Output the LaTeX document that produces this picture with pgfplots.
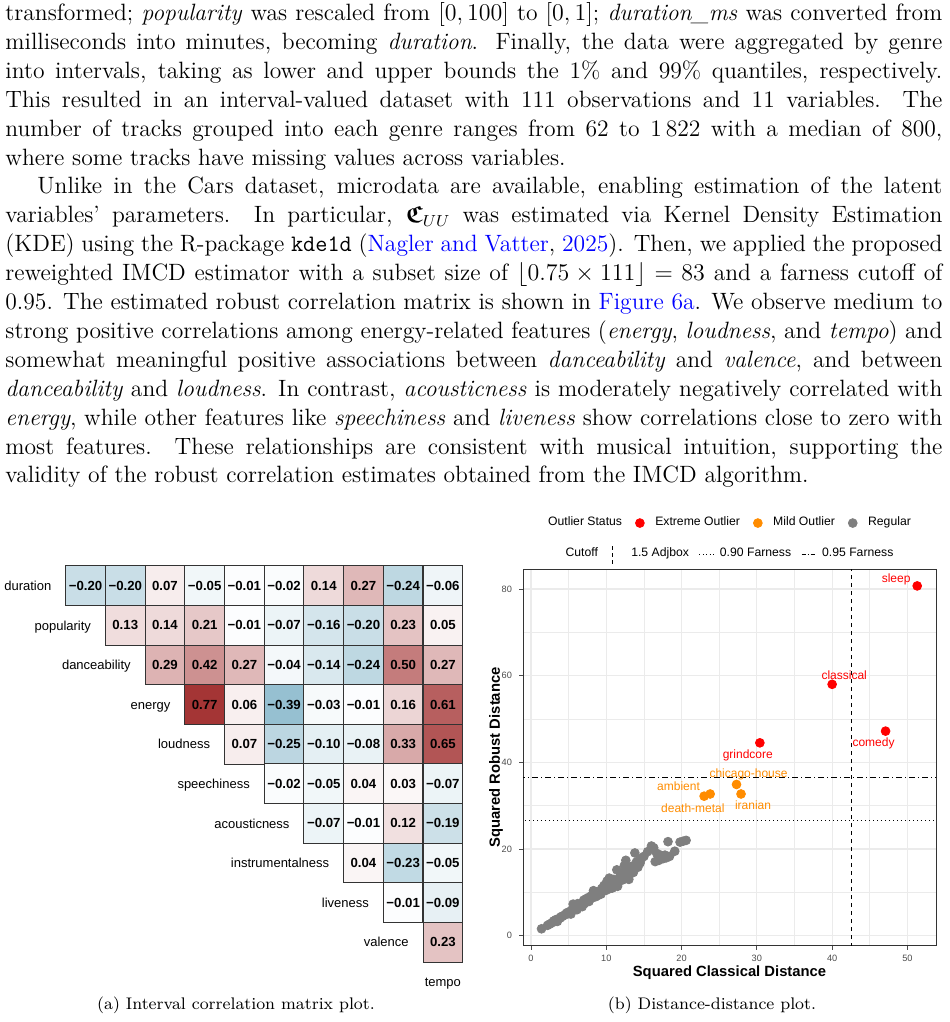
\documentclass[border=0pt]{standalone}
\usepackage{amsmath,amssymb}
\usepackage{fontspec}
\usepackage{pgfplots}
\usepackage{pgfplotstable}
\pgfplotsset{compat=1.18}
\newfontfamily\arial{Liberation Sans}
\definecolor{gcol}{RGB}{127,127,127}
\definecolor{ocol}{RGB}{255,140,0}
\definecolor{rcol}{RGB}{255,0,0}
\definecolor{linkblue}{RGB}{0,0,255}
\definecolor{tickgray}{RGB}{77,77,77}

\pgfplotstableread{
x y v lab
1 0 -0.20 −0.20
2 0 -0.20 −0.20
3 0 0.07 0.07
4 0 -0.05 −0.05
5 0 -0.01 −0.01
6 0 -0.02 −0.02
7 0 0.14 0.14
8 0 0.27 0.27
9 0 -0.24 −0.24
10 0 -0.06 −0.06
2 1 0.13 0.13
3 1 0.14 0.14
4 1 0.21 0.21
5 1 -0.01 −0.01
6 1 -0.07 −0.07
7 1 -0.16 −0.16
8 1 -0.20 −0.20
9 1 0.23 0.23
10 1 0.05 0.05
3 2 0.29 0.29
4 2 0.42 0.42
5 2 0.27 0.27
6 2 -0.04 −0.04
7 2 -0.14 −0.14
8 2 -0.24 −0.24
9 2 0.50 0.50
10 2 0.27 0.27
4 3 0.77 0.77
5 3 0.06 0.06
6 3 -0.39 −0.39
7 3 -0.03 −0.03
8 3 -0.01 −0.01
9 3 0.16 0.16
10 3 0.61 0.61
5 4 0.07 0.07
6 4 -0.25 −0.25
7 4 -0.10 −0.10
8 4 -0.08 −0.08
9 4 0.33 0.33
10 4 0.65 0.65
6 5 -0.02 −0.02
7 5 -0.05 −0.05
8 5 0.04 0.04
9 5 0.03 0.03
10 5 -0.07 −0.07
7 6 -0.07 −0.07
8 6 -0.01 −0.01
9 6 0.12 0.12
10 6 -0.19 −0.19
8 7 0.04 0.04
9 7 -0.23 −0.23
10 7 -0.05 −0.05
9 8 -0.01 −0.01
10 8 -0.09 −0.09
10 9 0.23 0.23
}\corr

\newlength\tw \setlength\tw{468.5pt}
\newcommand\Ln[1]{\hbox to\tw{#1}}
\newcommand\Lf[1]{\hbox to\tw{#1\hfil}}

\begin{document}
\begin{tikzpicture}
\path[use as bounding box] (0,0) rectangle (474.5pt,-511pt);

\node[anchor=base west, inner sep=0pt] at (2.5pt,-10.3pt) {\parbox[t]{\tw}{\fontsize{11.8}{14.45}\selectfont
\Ln{transformed; \textit{popularity} was rescaled from $[0,100]$ to $[0,1]$; \textit{duration\_ms} was converted from}
\Ln{milliseconds into minutes, becoming \textit{duration}. Finally, the data were aggregated by genre}
\Ln{into intervals, taking as lower and upper bounds the 1\% and 99\% quantiles, respectively.}
\Ln{This resulted in an interval-valued dataset with 111 observations and 11 variables. The}
\Ln{number of tracks grouped into each genre ranges from 62 to 1\,822 with a median of 800,}
\Lf{where some tracks have missing values across variables.}
\Ln{\hskip16pt Unlike in the Cars dataset, microdata are available, enabling estimation of the latent}
\Ln{variables' parameters. In particular, $\boldsymbol{\mathfrak{C}}_{UU}$ was estimated via Kernel Density Estimation}
\Ln{(KDE) using the R-package \texttt{kde1d} ({\color{linkblue}Nagler and Vatter}, {\color{linkblue}2025}). Then, we applied the proposed}
\Ln{reweighted IMCD estimator with a subset size of $\lfloor 0.75\times 111\rfloor = 83$ and a farness cutoff of}
\Ln{0.95. The estimated robust correlation matrix is shown in {\color{linkblue}Figure 6a}. We observe medium to}
\Ln{strong positive correlations among energy-related features (\textit{energy}, \textit{loudness}, and \textit{tempo}) and}
\Ln{somewhat meaningful positive associations between \textit{danceability} and \textit{valence}, and between}
\Ln{\textit{danceability} and \textit{loudness}. In contrast, \textit{acousticness} is moderately negatively correlated with}
\Ln{\textit{energy}, while other features like \textit{speechiness} and \textit{liveness} show correlations close to zero with}
\Ln{most features. These relationships are consistent with musical intuition, supporting the}
\Lf{validity of the robust correlation estimates obtained from the IMCD algorithm.}
}};

% ---------------- heatmap ----------------
\begin{axis}[
  at={(32.85pt,-283pt)}, anchor=north west,
  x=19.85pt, y=19.8pt, y dir=reverse,
  xmin=0.5, xmax=10.5, ymin=-0.5, ymax=9.5,
  hide axis, clip=false,
  colormap={corr}{rgb255=(40,125,160) rgb255=(255,255,255) rgb255=(160,45,45)},
  point meta min=-0.8, point meta max=0.8,
]
\addplot[scatter, only marks, mark=square*, mark size=9.92pt,
  scatter/use mapped color={draw=black!80, fill=mapped color},
  mark options={line width=0.5pt},
  point meta=\thisrow{v}] table[x=x,y=y] {\corr};
\addplot[draw=none, mark=none, nodes near coords, nodes near coords align=center,
  point meta=explicit symbolic,
  every node near coord/.append style={font=\arial\bfseries\fontsize{6.6}{7}\selectfont, text=black, anchor=center}]
  table[x=x,y=y,meta=lab] {\corr};
\begin{scope}[every node/.style={anchor=east, font=\arial\fontsize{6.5}{7}\selectfont, text height=4.6pt, text depth=0pt, inner sep=0pt}]
\node at (axis cs:0.147,0) {duration};
\node at (axis cs:1.147,1) {popularity};
\node at (axis cs:2.147,2) {danceability};
\node at (axis cs:3.147,3) {energy};
\node at (axis cs:4.147,4) {loudness};
\node at (axis cs:5.147,5) {speechiness};
\node at (axis cs:6.147,6) {acousticness};
\node at (axis cs:7.147,7) {instrumentalness};
\node at (axis cs:8.147,8) {liveness};
\node at (axis cs:9.147,9) {valence};
\node[anchor=center] at (axis cs:10,10) {tempo};
\end{scope}
\end{axis}

% ---------------- distance-distance plot ----------------
\begin{axis}[
  at={(261.5pt,-284.5pt)}, anchor=north west,
  scale only axis, width=206.5pt, height=188.35pt,
  xmin=-1.06, xmax=53.8, ymin=-2.3, ymax=84.6,
  xtick={0,10,20,30,40,50}, ytick={0,20,40,60,80},
  minor xtick={5,15,25,35,45}, minor ytick={10,30,50,70},
  grid=both,
  major grid style={draw=black!8, line width=0.6pt},
  minor grid style={draw=black!8, line width=0.3pt},
  tick pos=left, tick align=outside, major tick length=2pt, minor tick length=0pt,
  tick style={black!70, line width=0.4pt},
  axis line style={draw=black!80, line width=0.5pt},
  ticklabel style={font=\arial\fontsize{4.6}{5}\selectfont, text=tickgray},
  xticklabel style={yshift=1pt},
  /pgf/number format/assume math mode=true,
  xlabel={Squared Classical Distance}, ylabel={Squared Robust Distance},
  label style={font=\arial\bfseries\fontsize{7.4}{8}\selectfont},
  xlabel style={at={(axis description cs:0.5,-0.0706)}, anchor=center},
  ylabel style={at={(axis description cs:-0.0654,0.5)}, anchor=center},
  legend columns=-1,
  legend style={at={(0.5,1.122)}, anchor=center, draw=none, fill=none,
    font=\arial\fontsize{6.1}{7}\selectfont,
    /tikz/every even column/.append style={column sep=3.5pt}},
  legend image code/.code={\path[draw=none, fill=none] (0cm,0cm) -- (0.32cm,0cm); \draw[#1] plot coordinates {(0.12cm,0cm)};},
]
\addlegendimage{empty legend}\addlegendentry{Outlier Status}
\addplot[only marks, mark=*, mark size=2.2pt, color=rcol] coordinates {
 (51.3,80.7) (40.0,58.0) (47.1,47.2) (30.4,44.5)};
\addlegendentry{Extreme Outlier}
\addplot[only marks, mark=*, mark size=2.2pt, color=ocol] coordinates {
 (27.3,34.9) (23.0,32.2) (23.8,32.7) (27.9,32.7)};
\addlegendentry{Mild Outlier}
\addplot[only marks, mark=*, mark size=2.2pt, color=gcol] coordinates {
 (1.4,1.6) (2.2,2.4) (2.5,2.7) (2.8,3.0) (3.0,3.4) (3.3,3.7) (3.5,3.3) (3.6,3.9)
 (3.9,4.1) (4.0,4.4) (4.2,4.5) (4.5,4.8) (4.7,5.2) (4.9,5.4) (5.0,5.1) (5.2,5.6)
 (5.3,5.0) (5.4,5.9) (5.6,7.3) (5.8,6.3) (6.0,6.5) (6.1,6.0) (6.2,7.4) (6.3,6.8)
 (6.5,7.0) (6.7,7.2) (6.8,6.7) (6.9,7.6) (7.0,8.2) (7.1,7.4) (7.3,8.5) (7.5,8.0)
 (7.6,8.8) (7.7,7.9) (7.8,8.4) (8.0,9.2) (8.1,8.7) (8.3,10.4) (8.4,9.4) (8.6,9.0)
 (8.8,9.8) (8.9,9.3) (9.0,9.5) (9.2,10.3) (9.3,9.6) (9.4,10.9) (9.6,10.4) (9.7,11.6)
 (9.9,11.0) (10.0,10.5) (10.1,12.6) (10.2,11.8) (10.4,13.3) (10.5,10.9) (10.7,11.5)
 (10.8,11.0) (10.9,12.3) (11.0,13.0) (11.2,12.0) (11.4,15.2) (11.5,11.4) (11.6,12.2)
 (11.8,13.6) (11.9,12.8) (12.0,14.4) (12.2,12.9) (12.3,13.9) (12.4,16.2) (12.6,17.4)
 (12.7,15.0) (12.9,13.4) (13.0,13.0) (13.1,14.1) (13.2,15.5) (13.4,16.0) (13.6,14.6)
 (13.8,19.1) (14.0,17.0) (14.2,15.8) (14.4,17.5) (14.5,16.8) (14.7,17.9) (15.0,18.3)
 (15.5,19.4) (16.0,20.7) (16.2,20.0) (16.3,20.3) (16.5,17.1) (16.7,19.0) (17.0,17.4)
 (17.2,18.6) (17.6,17.8) (17.8,18.6) (18.0,18.0) (18.2,21.7) (18.4,18.3) (19.1,19.5)
 (19.8,21.6) (20.2,21.8) (20.6,22.0)};
\addlegendentry{Regular}
\addplot[forget plot, black, line width=0.5pt, dash pattern=on 2pt off 2pt] coordinates {(42.6,-10) (42.6,100)};
\addplot[forget plot, black, line width=0.5pt, dash pattern=on 0.5pt off 1.5pt] coordinates {(-5,26.5) (60,26.5)};
\addplot[forget plot, black, line width=0.5pt, dash pattern=on 3pt off 1.5pt on 0.5pt off 1.5pt] coordinates {(-5,36.4) (60,36.4)};
\begin{scope}[every node/.style={font=\arial\fontsize{6}{7}\selectfont, inner sep=0pt}]
\node[text=rcol] at (axis cs:48.5,82.3) {sleep};
\node[text=rcol] at (axis cs:41.6,60.1) {classical};
\node[text=rcol] at (axis cs:45.5,44.4) {comedy};
\node[text=rcol] at (axis cs:28.8,41.7) {grindcore};
\node[text=ocol] at (axis cs:28.9,37.2) {chicago-house};
\node[text=ocol] at (axis cs:19.6,34.5) {ambient};
\node[text=ocol] at (axis cs:21.5,29.5) {death-metal};
\node[text=ocol] at (axis cs:29.5,30.0) {iranian};
\end{scope}
\end{axis}

% second legend (cutoffs)
\begin{axis}[
  at={(261.5pt,-284.5pt)}, anchor=north west,
  scale only axis, width=206.5pt, height=188.35pt,
  xmin=0, xmax=1, ymin=0, ymax=1, hide axis,
  legend columns=-1,
  legend style={at={(0.5,1.0398)}, anchor=center, draw=none, fill=none,
    font=\arial\fontsize{6.1}{7}\selectfont,
    /tikz/every even column/.append style={column sep=3pt}},
]
\addlegendimage{empty legend}\addlegendentry{Cutoff}
\addlegendimage{legend image code/.code={\path[draw=none, fill=none] (0cm,0cm) -- (0.34cm,0cm); \draw[black, line width=0.5pt, dash pattern=on 2pt off 1.5pt] (0.08cm,-0.17cm) -- (0.08cm,0.17cm);}}
\addlegendentry{1.5 Adjbox}
\addlegendimage{legend image code/.code={\path[draw=none, fill=none] (0cm,0cm) -- (0.29cm,0cm); \draw[black, line width=0.5pt, dash pattern=on 0.5pt off 1.2pt] (0cm,0cm) -- (0.25cm,0cm);}}
\addlegendentry{0.90 Farness}
\addlegendimage{legend image code/.code={\path[draw=none, fill=none] (0cm,0cm) -- (0.29cm,0cm); \draw[black, line width=0.5pt, dash pattern=on 2pt off 1pt on 0.5pt off 1pt] (0cm,0cm) -- (0.25cm,0cm);}}
\addlegendentry{0.95 Farness}
\end{axis}

\node[anchor=base, font=\fontsize{8.4}{10}\selectfont] at (118pt,-504.5pt) {(a) Interval correlation matrix plot.};
\node[anchor=base, font=\fontsize{8.4}{10}\selectfont] at (356pt,-504.5pt) {(b) Distance-distance plot.};
\end{tikzpicture}
\end{document}
